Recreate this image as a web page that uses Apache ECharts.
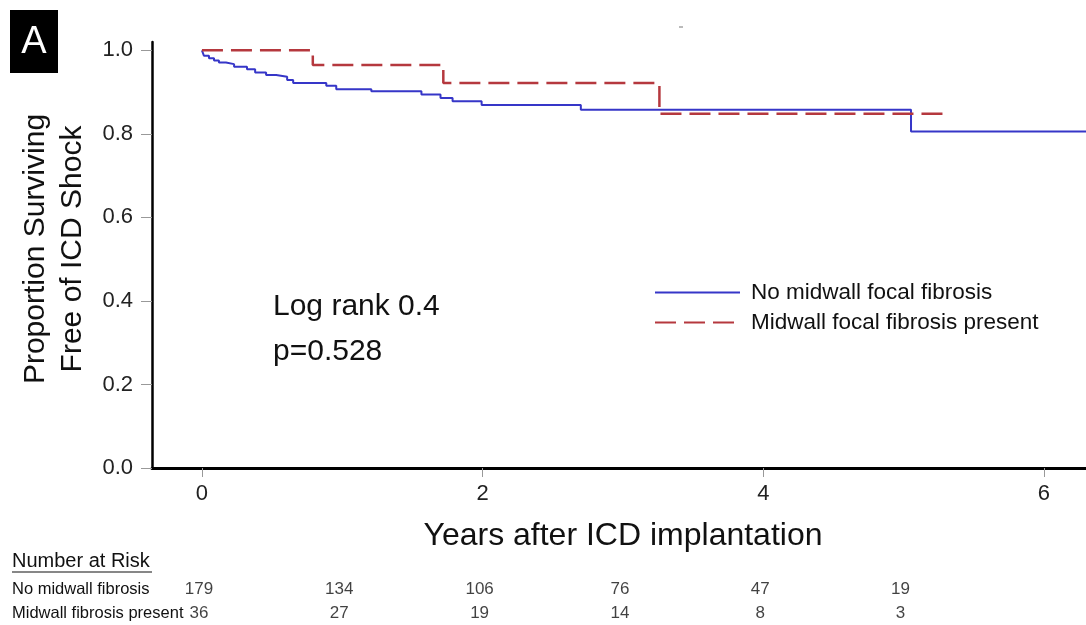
<!DOCTYPE html>
<html>
<head>
<meta charset="utf-8">
<script src="https://cdn.jsdelivr.net/npm/echarts@6/dist/echarts.min.js"></script>
<style>
html,body{margin:0;padding:0;background:#fff;}
#chart{width:1086px;height:625px;}
</style>
</head>
<body>
<div id="chart"></div>
<script>
// ---- Data ----
const noFibTime = [0, 0.014, 0.05, 0.086, 0.121, 0.171, 0.229, 0.321, 0.379, 0.457, 0.529, 0.607, 0.65, 0.886, 0.957, 1.207, 1.564, 1.70, 1.786, 1.993, 2.70, 5.053, 6.30];
const noFibSurv = [1.0, 0.987, 0.981, 0.976, 0.971, 0.967, 0.961, 0.955, 0.947, 0.941, 0.937, 0.929, 0.922, 0.915, 0.907, 0.902, 0.894, 0.886, 0.878, 0.869, 0.858, 0.806, 0.806];
const fibTime = [0, 0.79, 1.72, 3.26, 5.32];
const fibSurv = [1.0, 0.965, 0.922, 0.848, 0.848];
const seriesNames = ['No midwall focal fibrosis', 'Midwall focal fibrosis present'];
const yTicks = [0, 0.2, 0.4, 0.6, 0.8, 1.0];
const xTicks = [0, 2, 4, 6];
const riskRows = ['No midwall fibrosis', 'Midwall fibrosis present'];
const riskYears = [0, 1, 2, 3, 4, 5];
const riskNoFib = [179, 134, 106, 76, 47, 19];
const riskFib = [36, 27, 19, 14, 8, 3];

const FONT = '"Liberation Sans", Arial, sans-serif';
const X_MIN = -0.356, X_MAX = 6.30;

const zip = (a, b) => a.map((v, i) => [v, b[i]]);
const riskData = [];
riskYears.forEach((yr, i) => {
  riskData.push([yr, riskRows[0], riskNoFib[i]]);
  riskData.push([yr, riskRows[1], riskFib[i]]);
});

const chart = echarts.init(document.getElementById('chart'), null, {renderer: 'canvas'});
chart.setOption({
  animation: false,
  backgroundColor: '#fff',
  textStyle: {fontFamily: FONT},
  grid: [
    {left: 152, right: 0, top: 42, bottom: 157, containLabel: false},
    {left: 152, right: 0, top: 577, height: 50, containLabel: false}
  ],
  xAxis: [
    {
      gridIndex: 0, type: 'value', min: X_MIN, max: X_MAX,
      splitLine: {show: false},
      axisLine: {show: true, onZero: false, lineStyle: {color: '#000', width: 3}},
      axisTick: {show: true, length: 9, customValues: xTicks, lineStyle: {color: '#999', width: 1}},
      axisLabel: {customValues: xTicks, margin: 15, fontSize: 22, color: '#222', fontFamily: FONT}
    },
    {
      gridIndex: 1, type: 'value', min: X_MIN, max: X_MAX, show: false
    }
  ],
  yAxis: [
    {
      gridIndex: 0, type: 'value', min: 0, max: 1.02,
      splitLine: {show: false},
      axisLine: {show: true, onZero: false, lineStyle: {color: '#000', width: 2.5}},
      axisTick: {show: true, length: 11, customValues: yTicks, lineStyle: {color: '#999', width: 1}},
      axisLabel: {customValues: yTicks, margin: 19, fontSize: 22, color: '#222', fontFamily: FONT,
        formatter: v => v.toFixed(1)}
    },
    {
      gridIndex: 1, type: 'category', data: [riskRows[1], riskRows[0]],
      axisLine: {show: false}, axisTick: {show: false}, splitLine: {show: false},
      axisLabel: {show: true, align: 'left', margin: 140, fontSize: 16.5, color: '#111', fontFamily: FONT}
    }
  ],
  legend: {
    orient: 'vertical', left: 649, top: 276, itemWidth: 85, itemHeight: 18, itemGap: 7,
    data: seriesNames,
    itemStyle: {opacity: 0},
    textStyle: {fontSize: 22.5, color: '#111', fontFamily: FONT, padding: [0, 0, 0, 6]}
  },
  series: [
    {
      name: seriesNames[0], type: 'line', step: 'end', xAxisIndex: 0, yAxisIndex: 0,
      data: zip(noFibTime, noFibSurv), symbol: 'none',
      lineStyle: {color: '#3636c8', width: 2}, itemStyle: {color: '#3636c8'}
    },
    {
      name: seriesNames[1], type: 'line', step: 'end', xAxisIndex: 0, yAxisIndex: 0,
      data: zip(fibTime, fibSurv), symbol: 'none',
      lineStyle: {color: '#b5383e', width: 2.5, type: [21, 8]}, itemStyle: {color: '#b5383e'}
    },
    {
      name: 'Number at Risk', type: 'scatter', xAxisIndex: 1, yAxisIndex: 1,
      data: riskData, symbolSize: 1, itemStyle: {color: 'rgba(0,0,0,0)'},
      label: {show: true, position: 'inside', fontSize: 17, color: '#111', fontFamily: FONT,
        offset: [-3, 0], formatter: p => String(p.value[2])},
      silent: true
    }
  ],
  graphic: [
    {type: 'rect', left: 10, top: 10, shape: {width: 48, height: 63}, style: {fill: '#000'}},
    {type: 'text', x: 34, y: 43, style: {text: 'A', fill: '#fff', font: '38px ' + FONT, align: 'center', verticalAlign: 'middle'}},
    {type: 'text', x: 54, y: 249, rotation: Math.PI / 2,
      style: {text: 'Proportion Surviving\nFree of ICD Shock', fill: '#111', font: '30px ' + FONT,
        align: 'center', verticalAlign: 'middle', lineHeight: 37}},
    {type: 'text', x: 623, y: 536,
      style: {text: 'Years after ICD implantation', fill: '#111', font: '32px ' + FONT, align: 'center', verticalAlign: 'middle'}},
    {type: 'text', x: 273, y: 329,
      style: {text: 'Log rank 0.4\np=0.528', fill: '#111', font: '30px ' + FONT, align: 'left', verticalAlign: 'middle', lineHeight: 45}},
    {type: 'text', x: 12, y: 561,
      style: {text: 'Number at Risk', fill: '#111', font: '20px ' + FONT, align: 'left', verticalAlign: 'middle'}},
    {type: 'line', shape: {x1: 12, y1: 572, x2: 152, y2: 572}, style: {stroke: '#111', lineWidth: 1.2}},
    {type: 'line', shape: {x1: 679, y1: 27, x2: 683, y2: 27}, style: {stroke: '#777', lineWidth: 1}}
  ]
});
</script>
</body>
</html>
